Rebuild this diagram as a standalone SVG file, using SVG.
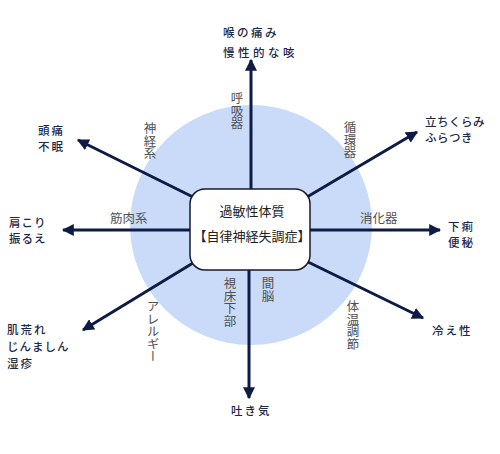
<svg xmlns="http://www.w3.org/2000/svg" width="500" height="454" viewBox="0 0 500 454">
<defs>
<marker id="ah" viewBox="0 0 10 10" refX="9" refY="5" markerWidth="4" markerHeight="4" orient="auto" markerUnits="strokeWidth">
<path d="M0,0 L10,5 L0,10 z" fill="#0d1b45"/>
</marker>
<style>
.sym{font-family:"Noto Sans CJK JP","Noto Sans",sans-serif;font-size:11.5px;fill:#1d2848;font-weight:500;letter-spacing:2px}
.cat{font-family:"Noto Sans CJK JP","Noto Sans",sans-serif;font-size:12.5px;fill:#505050;font-weight:400}
.vert{writing-mode:vertical-rl}
.ln{stroke:#0d1b45;stroke-width:3;fill:none;marker-end:url(#ah)}
.box{font-family:"Noto Sans CJK JP","Noto Sans",sans-serif;font-size:13px;fill:#222;font-weight:400}
</style>
</defs>
<rect width="500" height="454" fill="#ffffff"/>
<ellipse id="bg-circle" cx="251" cy="225" rx="121" ry="120" fill="#c9dbf8"/>
<g id="connectors">
<line class="ln" x1="251" y1="190" x2="251" y2="60"/>
<line class="ln" x1="249" y1="270" x2="249" y2="398"/>
<line class="ln" x1="190" y1="230" x2="63" y2="230"/>
<line class="ln" x1="310" y1="230" x2="440" y2="230"/>
<line class="ln" x1="195" y1="198" x2="78" y2="140"/>
<line class="ln" x1="307" y1="197" x2="417" y2="132"/>
<line class="ln" x1="193" y1="263" x2="83" y2="330"/>
<line class="ln" x1="308" y1="262" x2="423" y2="318"/>
</g>
<g id="center">
<rect x="190" y="189" width="120" height="81" rx="15" ry="15" fill="#ffffff" stroke="#1a1a2e" stroke-width="1.5"/>
<text class="box" x="252" y="216" text-anchor="middle">過敏性体質</text>
<text class="box" x="252" y="241" text-anchor="middle">【自律神経失調症】</text>
</g>
<g id="n-top">
<text class="sym" x="223" y="37" style="letter-spacing:2.5px">喉の痛み</text>
<text class="sym" x="223" y="57" style="letter-spacing:3.5px">慢性的な咳</text>
</g>
<g id="c-top"><text class="cat vert" x="237" y="92">呼吸器</text></g>
<g id="n-ul">
<text class="sym" x="38" y="135">頭痛</text>
<text class="sym" x="38" y="151">不眠</text>
</g>
<g id="c-ul"><text class="cat vert" x="150" y="122">神経系</text></g>
<g id="n-left">
<text class="sym" x="9" y="227" style="letter-spacing:1px">肩こり</text>
<text class="sym" x="9" y="243" style="letter-spacing:1px">振るえ</text>
</g>
<g id="c-left"><text class="cat" x="110" y="223">筋肉系</text></g>
<g id="n-ur">
<text class="sym" x="425" y="126" style="letter-spacing:0.5px">立ちくらみ</text>
<text class="sym" x="425" y="142" style="letter-spacing:0.5px">ふらつき</text>
</g>
<g id="c-ur"><text class="cat vert" x="350" y="121">循環器</text></g>
<g id="n-right">
<text class="sym" x="448" y="231">下痢</text>
<text class="sym" x="448" y="247">便秘</text>
</g>
<g id="c-right"><text class="cat" x="360" y="223">消化器</text></g>
<g id="n-lr"><text class="sym" x="432" y="335">冷え性</text></g>
<g id="c-lr"><text class="cat vert" x="353" y="300">体温調節</text></g>
<g id="n-ll">
<text class="sym" x="7" y="334">肌荒れ</text>
<text class="sym" x="7" y="351" style="letter-spacing:1px">じんましん</text>
<text class="sym" x="7" y="368">湿疹</text>
</g>
<g id="c-ll"><text class="cat vert" x="153" y="300">アレルギー</text></g>
<g id="c-bl"><text class="cat vert" x="230" y="277">視床下部</text></g>
<g id="c-br"><text class="cat vert" x="268" y="277">間脳</text></g>
<g id="n-bottom"><text class="sym" x="231" y="415">吐き気</text></g>
</svg>
